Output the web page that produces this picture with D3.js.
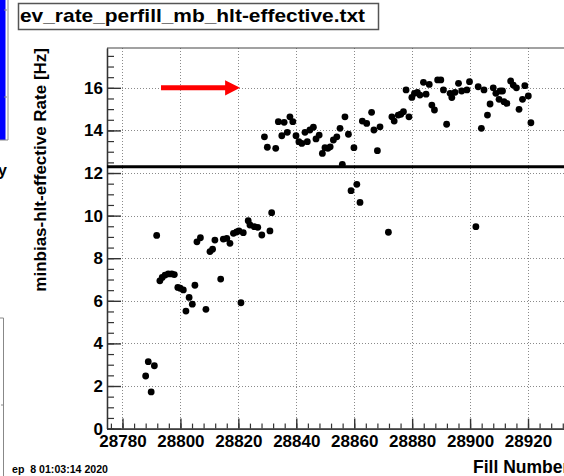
<!DOCTYPE html>
<html>
<head>
<meta charset="utf-8">
<script src="https://cdn.jsdelivr.net/npm/d3@7"></script>
<style>
  html, body { margin: 0; padding: 0; background: #fff; overflow: hidden; }
  svg { display: block; }
  text { font-family: "Liberation Sans", Arial, Helvetica, sans-serif; font-weight: bold; }
</style>
</head>
<body>
<svg id="chart" width="564" height="476"></svg>
<script>
// ---- data ----
const fills = [
  28788.0, 28788.9, 28789.9, 28791.0, 28791.8, 28792.9, 28793.7, 28794.7, 28795.8, 28797.0,
  28797.9, 28799.1, 28799.9, 28801.0, 28801.9, 28803.0, 28804.1, 28805.0, 28805.7, 28806.9,
  28808.8, 28810.2, 28811.1, 28811.9, 28813.9, 28814.8, 28816.0, 28817.1, 28818.3, 28819.4,
  28820.2, 28820.9, 28821.7, 28823.4, 28824.0, 28825.5, 28826.7, 28828.1, 28829.0, 28830.0,
  28830.9, 28831.5, 28832.9, 28833.8, 28835.0, 28835.8, 28836.9, 28837.8, 28838.8, 28839.9,
  28840.9, 28841.9, 28843.0, 28843.8, 28844.7, 28845.9, 28846.8, 28847.9, 28849.0, 28849.9,
  28850.9, 28851.7, 28852.8, 28854.0, 28855.1, 28855.9, 28856.8, 28858.0, 28858.9, 28859.9,
  28860.9, 28862.0, 28862.8, 28864.3, 28866.0, 28866.8, 28868.0, 28868.9, 28871.8, 28873.0,
  28873.8, 28875.2, 28876.1, 28877.0, 28877.9, 28878.9, 28879.9, 28880.8, 28881.8, 28882.7,
  28883.9, 28884.8, 28885.9, 28886.8, 28887.7, 28888.8, 28889.9, 28890.8, 28891.9, 28893.1,
  28893.7, 28894.8, 28896.0, 28897.1, 28898.9, 28899.8, 28902.0, 28902.8, 28903.9, 28904.8,
  28906.0, 28906.9, 28908.0, 28908.9, 28910.0, 28910.4, 28911.2, 28911.7, 28912.7, 28914.0,
  28914.9, 28916.0, 28916.9, 28918.1, 28918.9, 28920.1, 28921.0
];
const rates = [
  2.47, 3.14, 1.72, 2.95, 9.07, 6.94, 7.10, 7.21, 7.26, 7.26,
  7.23, 6.63, 6.59, 6.51, 5.52, 6.16, 5.84, 6.73, 8.77, 8.96,
  5.60, 8.31, 8.42, 8.85, 7.02, 8.90, 8.93, 8.70, 9.17, 9.23,
  9.28, 5.91, 9.20, 9.76, 9.56, 9.48, 9.45, 9.09, 13.70, 13.21,
  9.28, 10.14, 13.16, 14.41, 13.75, 14.38, 13.91, 14.64, 14.41, 13.75,
  13.47, 13.39, 13.91, 13.47, 14.02, 14.15, 13.60, 13.78, 12.92, 13.19,
  13.16, 13.23, 13.55, 13.70, 14.10, 12.41, 14.64, 13.82, 11.17, 13.19,
  11.47, 10.62, 14.44, 14.33, 14.85, 14.02, 13.05, 14.17, 9.22, 14.64,
  14.44, 14.72, 14.76, 14.88, 15.90, 14.64, 15.55, 15.74, 15.79, 15.66,
  16.26, 15.70, 16.16, 15.19, 14.96, 16.37, 16.37, 15.90, 14.29, 15.74,
  15.54, 15.79, 16.21, 15.85, 15.90, 16.29, 9.48, 16.05, 14.10, 15.90,
  14.72, 15.24, 16.00, 15.74, 15.46, 15.85, 15.85, 15.35, 15.27, 16.32,
  16.13, 16.00, 14.99, 15.46, 16.10, 15.62, 14.36
];
const xTicks = [28780, 28800, 28820, 28840, 28860, 28880, 28900, 28920];
const yTicks = [0, 2, 4, 6, 8, 10, 12, 14, 16];
const refLevel = 12.3;                 // black horizontal line
const arrowFill = [28793.3, 28820.6];  // red arrow start / tip (fill)
const arrowRate = 16;
const titleText = "ev_rate_perfill_mb_hlt-effective.txt";
const yTitle = "minbias-hlt-effective Rate [Hz]";
const xTitle = "Fill Number";
const stamp = "ep  8 01:03:14 2020";

// ---- layout ----
const svg = d3.select("#chart");
const L = 107, R = 590, T = 48, B = 428.6;
const x = d3.scaleLinear().domain([28774.65, 28941.4]).range([L, R]);
const y = d3.scaleLinear().domain([0, 17.87]).range([B, T]);

// left-edge remnants of neighbouring pads
svg.append("rect").attr("x", 0).attr("y", 0).attr("width", 5.5).attr("height", 140).attr("fill", "#0000ff");
svg.append("path").attr("d", "M8,0V140H0").attr("fill", "none").attr("stroke", "#888").attr("stroke-width", 1);
svg.append("path").attr("d", "M4,10H7M4,97H7").attr("stroke", "#888").attr("stroke-width", 1);
svg.append("text").attr("x", 7).attr("y", 176).attr("text-anchor", "end").attr("font-size", 16).text("y");
svg.append("path").attr("d", "M0,318H3.5V476").attr("fill", "none").attr("stroke", "#888").attr("stroke-width", 1);
svg.append("path").attr("d", "M1,405H3.5").attr("stroke", "#888").attr("stroke-width", 1);

// title box
svg.append("rect").attr("x", 18.5).attr("y", 3.5).attr("width", 360).attr("height", 26)
  .attr("fill", "#fff").attr("stroke", "#555").attr("stroke-width", 1.5);
svg.append("text").attr("x", 20).attr("y", 22).attr("font-size", 19)
  .attr("textLength", 345).attr("lengthAdjust", "spacingAndGlyphs").text(titleText);

// grid
const grid = svg.append("g").attr("stroke", "#8a8a8a").attr("stroke-width", 1).attr("stroke-dasharray", "1,2");
grid.selectAll(".gx").data(xTicks).join("line")
  .attr("x1", d => Math.round(x(d)) + 0.5).attr("x2", d => Math.round(x(d)) + 0.5)
  .attr("y1", T).attr("y2", B);
grid.selectAll(".gy").data(yTicks.filter(d => d > 0)).join("line")
  .attr("x1", L).attr("x2", R)
  .attr("y1", d => Math.round(y(d)) + 0.5).attr("y2", d => Math.round(y(d)) + 0.5);

// frame top
svg.append("line").attr("x1", L).attr("x2", R).attr("y1", T).attr("y2", T)
  .attr("stroke", "#444").attr("stroke-width", 1.2);

// axes
const xMinor = d3.range(28776, 28941, 4);
const yMinor = d3.range(0, 17.9, 0.5);
svg.append("g").attr("transform", `translate(0,${B})`)
  .call(d3.axisBottom(x).tickValues(xMinor).tickSize(-5).tickSizeOuter(0).tickFormat(""))
  .call(g => g.selectAll("line,path").attr("stroke", "#333").attr("stroke-width", 1.2));
const xa = svg.append("g").attr("transform", `translate(0,${B})`)
  .call(d3.axisBottom(x).tickValues(xTicks).tickSize(-10).tickSizeOuter(0).tickPadding(6).tickFormat(d3.format("d")));
xa.selectAll("line,path").attr("stroke", "#333").attr("stroke-width", 1.4);
xa.selectAll("text").attr("font-size", 17).attr("fill", "#000").attr("font-family", null);

svg.append("g").attr("transform", `translate(${L},0)`)
  .call(d3.axisLeft(y).tickValues(yMinor).tickSize(-7).tickSizeOuter(0).tickFormat(""))
  .call(g => g.selectAll("line,path").attr("stroke", "#333").attr("stroke-width", 1.2));
const ya = svg.append("g").attr("transform", `translate(${L},0)`)
  .call(d3.axisLeft(y).tickValues(yTicks).tickSize(-14).tickSizeOuter(0).tickPadding(4).tickFormat(d3.format("d")));
ya.selectAll("line,path").attr("stroke", "#333").attr("stroke-width", 1.4);
ya.selectAll("text").attr("font-size", 17).attr("fill", "#000").attr("font-family", null);

// reference level
svg.append("line").attr("x1", L).attr("x2", R).attr("y1", y(refLevel)).attr("y2", y(refLevel))
  .attr("stroke", "#000").attr("stroke-width", 3);

// points
svg.append("g").selectAll("circle").data(fills.map((f, i) => [f, rates[i]])).join("circle")
  .attr("cx", d => x(d[0])).attr("cy", d => y(d[1])).attr("r", 3.4).attr("fill", "#000");

// red arrow
const ax0 = x(arrowFill[0]), ax1 = x(arrowFill[1]), ay = y(arrowRate);
svg.append("line").attr("x1", ax0).attr("x2", ax1 - 14).attr("y1", ay).attr("y2", ay)
  .attr("stroke", "#ff0000").attr("stroke-width", 5);
svg.append("path").attr("d", `M${ax1},${ay}L${ax1 - 15},${ay - 7.7}L${ax1 - 15},${ay + 7.7}Z`).attr("fill", "#ff0000");

// axis titles
svg.append("text").attr("transform", `translate(46,${T}) rotate(-90)`).attr("text-anchor", "end")
  .attr("font-size", 17).text(yTitle);
svg.append("text").attr("x", 473).attr("y", 473).attr("font-size", 17.5).text(xTitle);
svg.append("text").attr("x", 12).attr("y", 472.5).attr("font-size", 10.6)
  .style("white-space", "pre").attr("xml:space", "preserve").text(stamp);
</script>
</body>
</html>
